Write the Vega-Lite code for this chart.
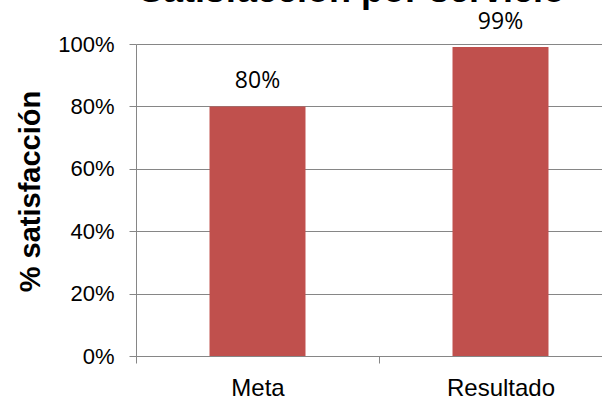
{
  "$schema": "https://vega.github.io/schema/vega-lite/v6.json",
  "autosize": "none",
  "padding": {"left": 136, "top": 44, "right": 0, "bottom": 44},
  "width": 486,
  "height": 312,
  "background": "white",
  "title": {
    "text": "Satisfacción por servicio",
    "font": "Liberation Sans",
    "fontSize": 36,
    "fontWeight": "bold",
    "color": "black",
    "anchor": "middle",
    "frame": "group",
    "baseline": "alphabetic",
    "offset": 3,
    "dx": -27,
    "dy": 30
  },
  "data": {
    "values": [
      {"categoria": "Meta", "satisfaccion": 0.80},
      {"categoria": "Resultado", "satisfaccion": 0.99}
    ]
  },
  "encoding": {
    "x": {
      "field": "categoria",
      "type": "nominal",
      "sort": null,
      "scale": {"paddingInner": 0, "paddingOuter": 0},
      "axis": {
        "title": null,
        "labelAngle": 0,
        "labelFont": "Liberation Sans",
        "labelFontSize": 24,
        "labelColor": "black",
        "labelPadding": 13,
        "tickSize": 7,
        "tickColor": "#868686",
        "domainColor": "#868686",
        "tickOffset": -121.5,
        "labelOffset": 121.5,
        "grid": false
      }
    },
    "y": {
      "field": "satisfaccion",
      "type": "quantitative",
      "scale": {"domain": [0, 1], "nice": false},
      "axis": {
        "title": "% satisfacción",
        "titleFont": "Liberation Sans",
        "titleFontSize": 29,
        "titleFontWeight": "bold",
        "titleColor": "black",
        "titlePadding": 12,
        "titleY": 147,
        "format": ".0%",
        "values": [0, 0.2, 0.4, 0.6, 0.8, 1],
        "labelFont": "Liberation Sans",
        "labelFontSize": 22,
        "labelColor": "black",
        "labelPadding": 15,
        "tickSize": 7,
        "tickColor": "#868686",
        "domainColor": "#868686",
        "grid": true,
        "gridColor": "#868686",
        "gridWidth": 1
      }
    }
  },
  "layer": [
    {
      "mark": {"type": "bar", "color": "#C0504D", "width": {"band": 0.395}}
    },
    {
      "mark": {
        "type": "text",
        "baseline": "alphabetic",
        "dy": -18,
        "font": "Open Sans",
        "fontSize": 23,
        "color": "black"
      },
      "encoding": {
        "text": {"field": "satisfaccion", "type": "quantitative", "format": ".0%"}
      }
    }
  ],
  "config": {"view": {"stroke": null}}
}
